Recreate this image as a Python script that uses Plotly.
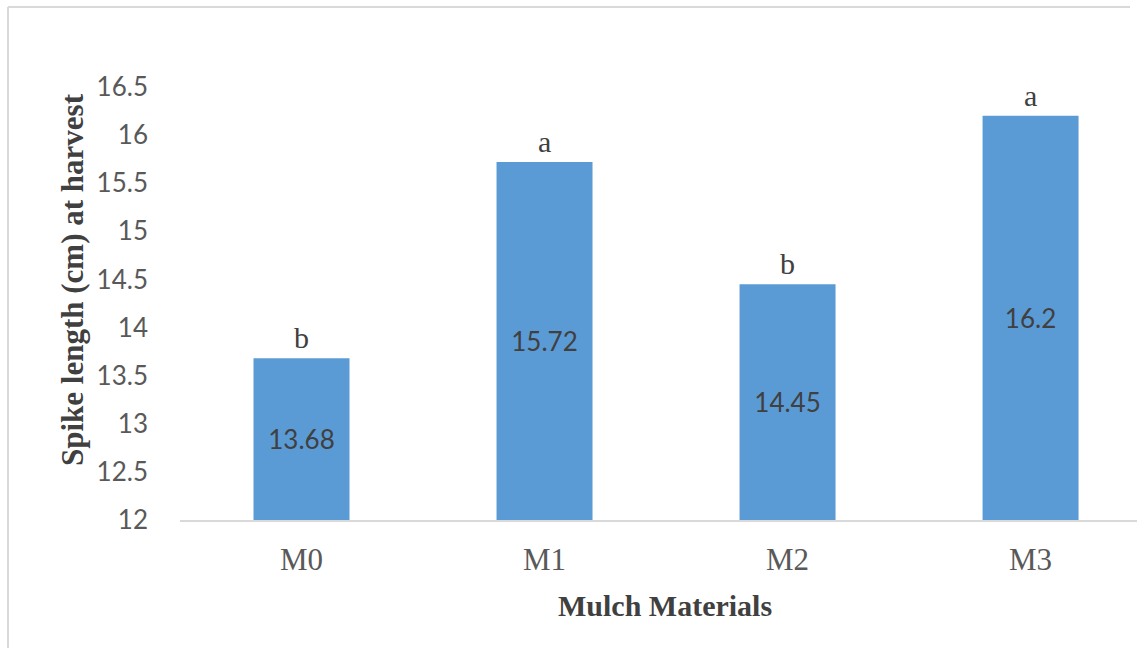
import plotly.graph_objects as go

# Spike length at harvest by mulch material
treatments = ["M0", "M1", "M2", "M3"]
spike_length = [13.68, 15.72, 14.45, 16.2]
groups = ["b", "a", "b", "a"]
y_ticks = [12, 12.5, 13, 13.5, 14, 14.5, 15, 15.5, 16, 16.5]
y_floor = 12

BAR_COLOR = "#5B9BD5"
SANS = "Lato, Calibri, Carlito, sans-serif"
SERIF = "Liberation Serif, Times New Roman, serif"

W, H = 1137, 648
L, T, B = 180, 87, 128


def px(x):
    """pixel x -> paper coordinate"""
    return (x - L) / (W - L)


def py(y):
    """pixel y -> paper coordinate"""
    return (H - B - y) / (H - B - T)


fig = go.Figure()
# bars rise from the axis floor so the value labels sit in the visible part
fig.add_trace(go.Bar(
    x=treatments,
    y=[v - y_floor for v in spike_length],
    base=[y_floor] * len(spike_length),
    marker=dict(color=BAR_COLOR, line=dict(width=0)),
    text=[f"{v:g}" for v in spike_length],
    textposition="inside",
    insidetextanchor="middle",
    textangle=0,
    constraintext="none",
    textfont=dict(family=SANS, size=26, color="#404040"),
    customdata=spike_length,
    hovertemplate="%{x}: %{customdata}<extra></extra>",
))

# significance letters above each bar
for t, v, g in zip(treatments, spike_length, groups):
    fig.add_annotation(
        x=t, y=v, text=g, showarrow=False,
        xref="x", yref="y", yanchor="bottom", yshift=2,
        font=dict(family=SERIF, size=30, color="#404040"),
    )

# axis titles
fig.add_annotation(
    x=px(665), y=py(605), xref="paper", yref="paper",
    xanchor="center", yanchor="middle",
    text="<b>Mulch Materials</b>", showarrow=False,
    font=dict(family=SERIF, size=30, color="#404040"),
)
fig.add_annotation(
    x=px(72), y=py(280), xref="paper", yref="paper",
    xanchor="center", yanchor="middle",
    text="<b>Spike length (cm) at harvest</b>", textangle=-90, showarrow=False,
    font=dict(family=SERIF, size=31, color="#404040"),
)

# chart frame
frame = dict(type="line", xref="paper", yref="paper",
             line=dict(color="#d9d9d9", width=2), layer="below")
fig.add_shape(**frame, x0=px(8), x1=px(1130), y0=py(7), y1=py(7))
fig.add_shape(**frame, x0=px(8), x1=px(8), y0=py(7), y1=py(650))

fig.update_layout(
    width=W, height=H,
    margin=dict(l=L, r=0, t=T, b=B, pad=0),
    paper_bgcolor="white", plot_bgcolor="white",
    bargap=0.605,
    showlegend=False,
    xaxis=dict(
        type="category",
        range=[-0.5, 3.438],
        showline=True, linecolor="#d9d9d9", linewidth=2,
        showgrid=False, ticks="",
        tickfont=dict(family=SERIF, size=31, color="#595959"),
        ticklabelstandoff=11,
    ),
    yaxis=dict(
        range=[12, 16.5],
        tickvals=y_ticks,
        showline=False, showgrid=False, zeroline=False, ticks="",
        tickfont=dict(family=SANS, size=26, color="#595959"),
        ticklabelstandoff=31,
    ),
)

fig.write_html("out.html")
